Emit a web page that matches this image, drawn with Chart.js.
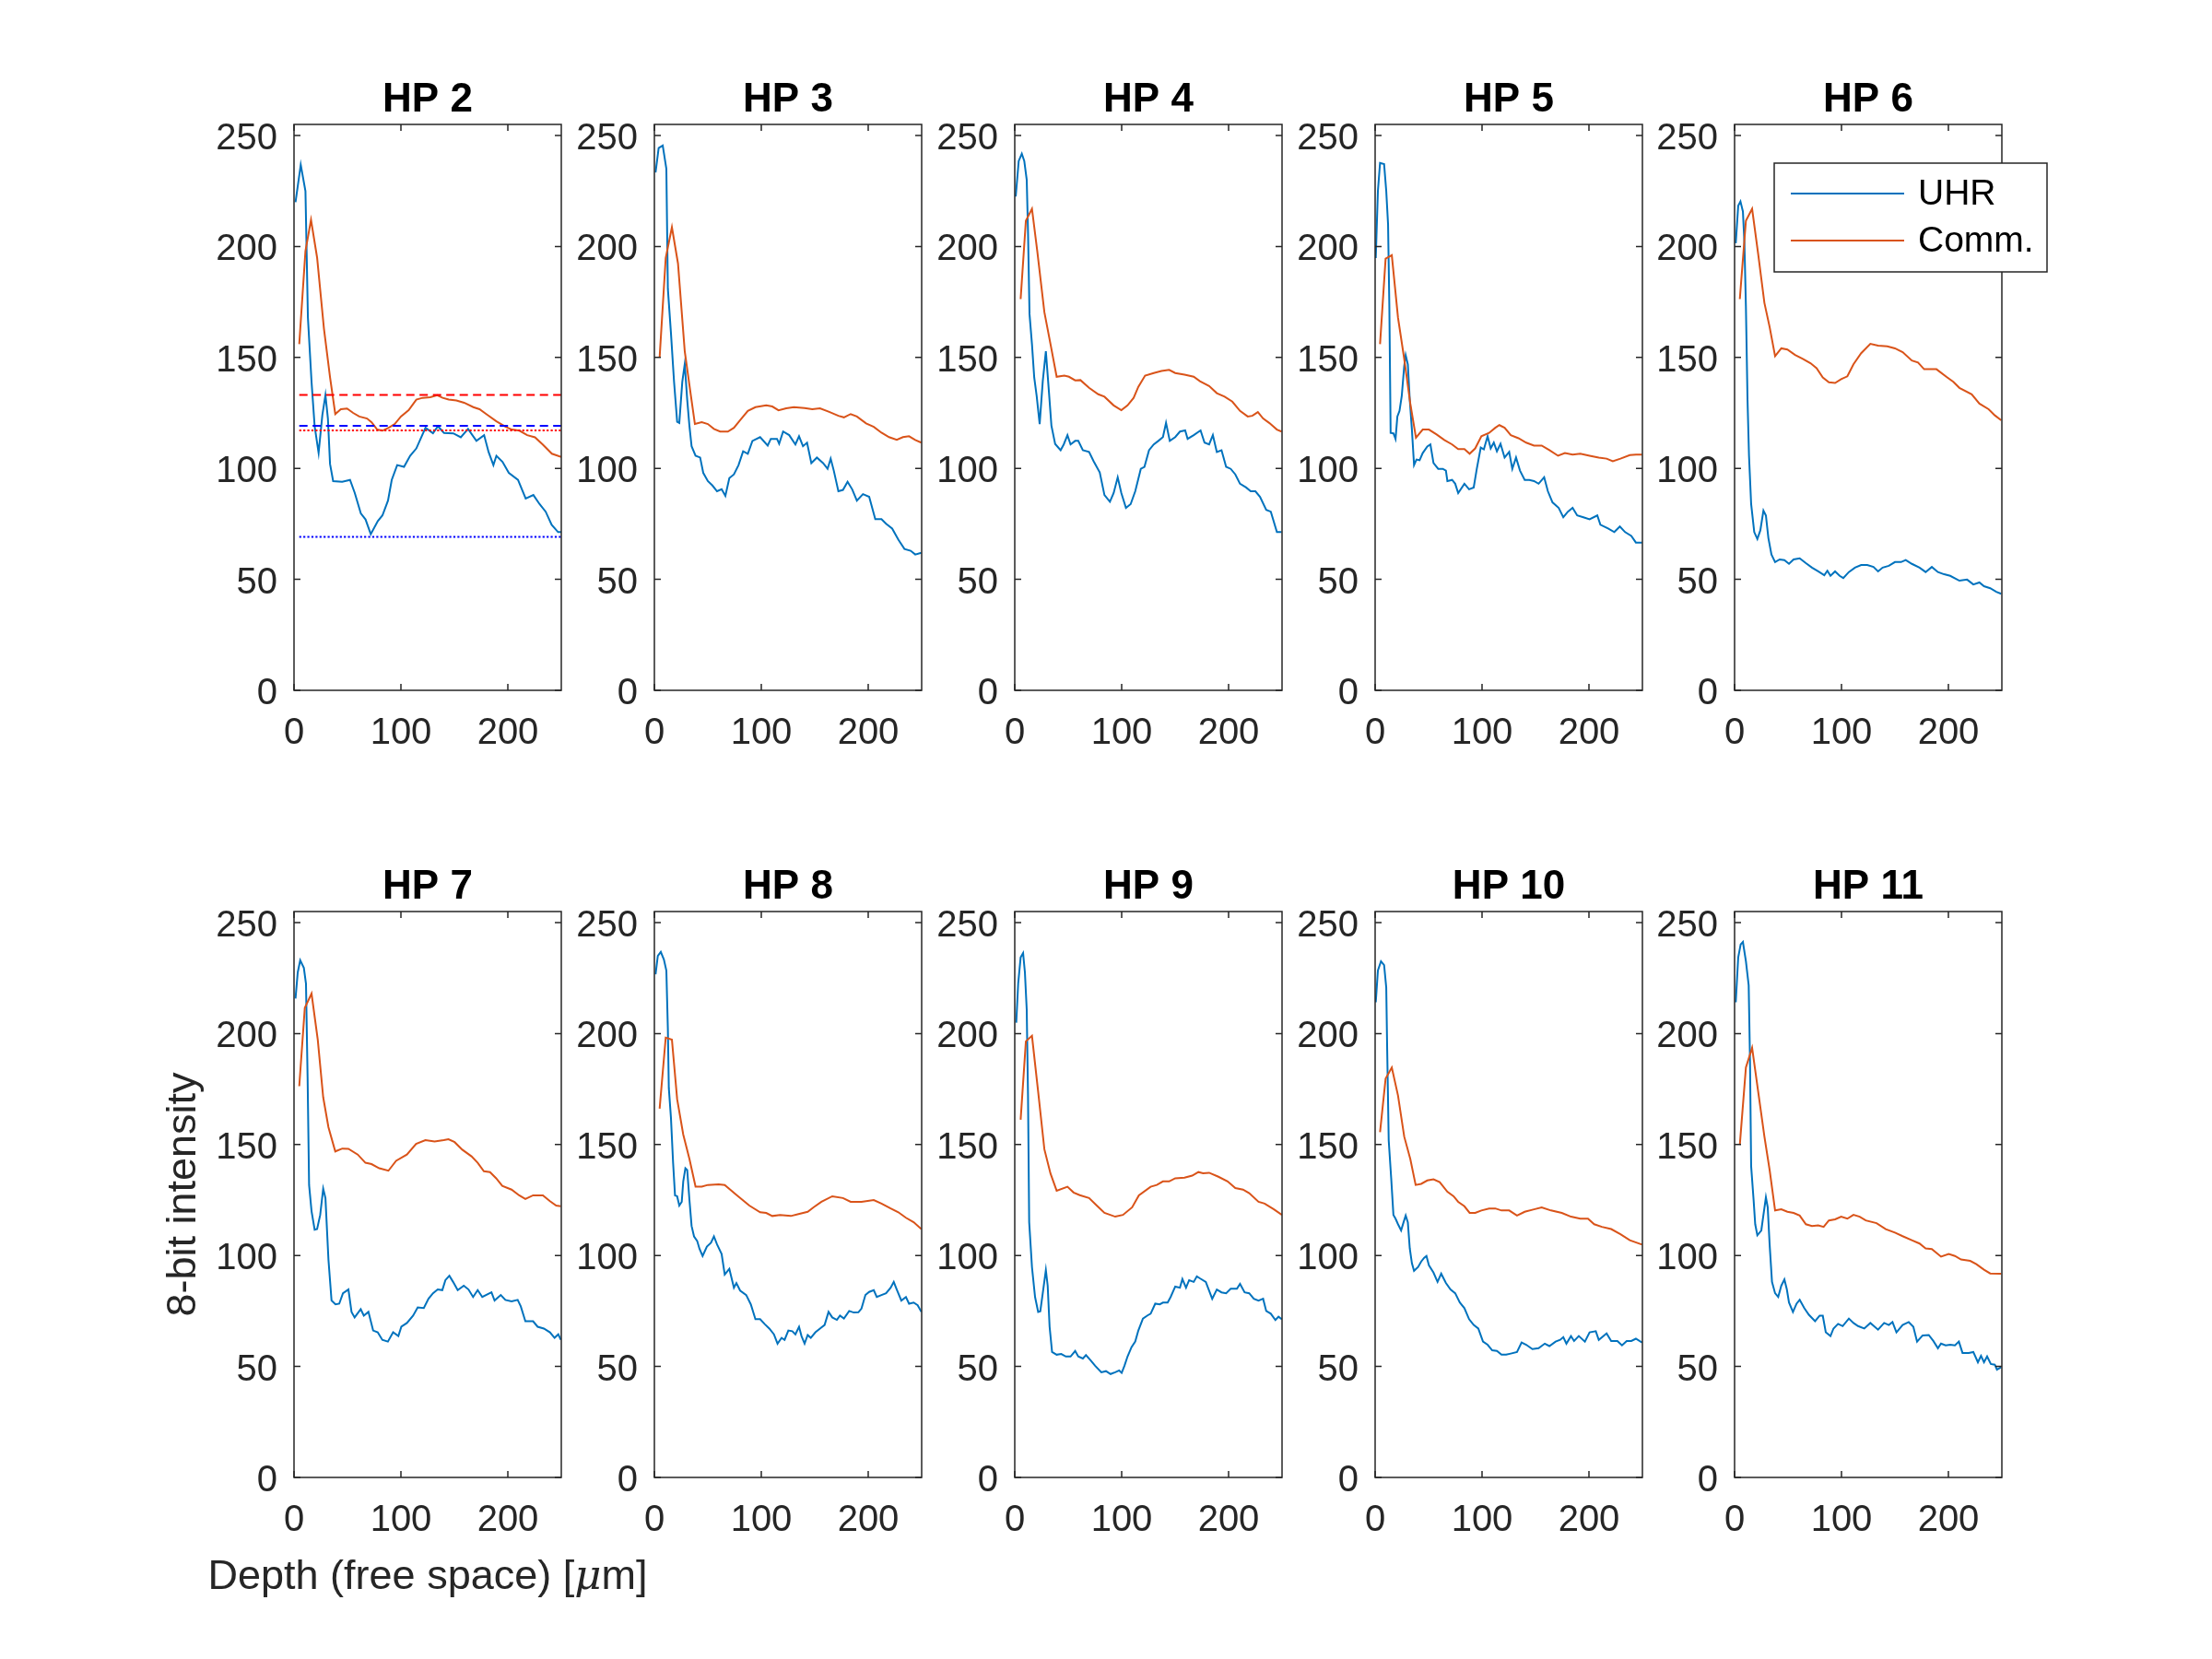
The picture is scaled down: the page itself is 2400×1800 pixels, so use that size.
<!DOCTYPE html>
<html>
<head>
<meta charset="utf-8">
<script src="https://cdn.jsdelivr.net/npm/chart.js@4.4.1/dist/chart.umd.min.js"></script>
<style>
  html, body { margin: 0; padding: 0; background: #fff; }
  #fig { position: relative; width: 2400px; height: 1800px; overflow: hidden; background: #fff; }
  #fig canvas { position: absolute; }
</style>
</head>
<body>
<div id="fig"></div>
<script>
// panel names, in subplot order
const panelNames = ['HP 2', 'HP 3', 'HP 4', 'HP 5', 'HP 6', 'HP 7', 'HP 8', 'HP 9', 'HP 10', 'HP 11'];
const xTicks = [0, 100, 200];
const yTicks = [0, 50, 100, 150, 200, 250];

// [depth, intensity]
const uhrHP2 = [[1.4,220],[6.3,236.8],[10.7,225],[13,168],[16.4,139],[19.3,119],[23,107],[26.5,124],[29.4,133],[31.7,122.5],[33.7,102],[36.6,94.3],[45,94],[52.4,94.8],[56.8,89],[62.5,79.7],[66.9,77],[71.8,70.4],[78.4,76.3],[82.7,78.8],[87.9,85.5],[91.4,94.8],[96.5,101.5],[102.9,100.7],[108.6,105.7],[114.4,109],[123,118.3],[130,115.8],[134.6,119],[140.3,116],[149,115.8],[156,114],[162.8,117.8],[170.6,112.4],[177.8,115],[182,107.4],[186.5,101.5],[189.3,105.7],[195,103],[200.9,98],[209.5,94.8],[216.7,86.4],[223.9,88],[229.7,83.9],[235.4,80.5],[241,74.6],[247,71.3],[250,71.3]];
const commHP2 = [[4.9,156],[10.7,198],[15.9,212],[21.6,195],[28,163],[33.7,141],[38.6,124.5],[43.8,126.7],[49.6,127],[55.3,125],[61,123.4],[68.3,122.5],[72.6,120.8],[77.8,117.5],[82.7,117],[88.5,118.3],[94.2,120],[100,123.4],[107.2,126.2],[114.4,131],[120.2,131.8],[127.4,132.1],[134,133],[139,131.8],[144.7,131],[151.9,130.6],[159.1,129.6],[167.7,127.6],[173.5,126.7],[180.7,124.2],[189.3,121.2],[198,118.7],[203.7,117.5],[210.9,117],[218.1,115],[225.4,114],[232.6,110.8],[241.2,106.6],[250,105.2]];

const uhrHP3 = [[1.1,233.4],[4,244.4],[7.8,245.5],[11.2,235],[12.6,181],[15.5,161],[18.4,139],[21.3,121],[23.3,120.5],[26.1,139],[28.4,147],[30.7,131],[32.8,119],[34.8,110],[38.5,105.7],[42.8,104.9],[45.7,98],[50,94.3],[54.3,92.3],[58.6,89.7],[62.9,90.6],[66.4,87.6],[70.1,95.6],[74.4,97.3],[78.7,101.5],[83,107.7],[87.4,106.6],[91.7,112.4],[98.9,114.1],[106,110.3],[108.9,113.3],[114.7,113.3],[116.7,111.1],[120.4,116.6],[126.1,115],[131.9,110.8],[135.3,114.5],[139,110],[142.8,111.6],[146.8,102.4],[152,104.9],[157.8,102.4],[162,99.8],[164.9,104.4],[167.8,99],[172.1,89.7],[176.4,90.3],[180.7,94],[185,90.6],[189.4,85.5],[195.1,88.4],[200.9,87.2],[206.6,77.1],[212.4,77.1],[216.7,75.1],[222.4,72.9],[228.2,67.9],[233.9,63.7],[239.7,62.9],[244,61.2],[249.7,62]];
const commHP3 = [[4.9,150],[10.6,194.8],[16.4,208.7],[22.1,192.3],[28.4,152.8],[34.2,132.6],[37.9,120],[44.3,120.8],[50,120],[55.7,117.8],[61.5,116.6],[68.7,116.6],[74.4,118.3],[80.2,121.7],[87.4,125.9],[94.5,127.6],[104.6,128.4],[110.3,127.9],[116.1,126.2],[123.3,127.1],[130.5,127.6],[140.5,127.2],[147.7,126.7],[154.9,127.1],[163.5,125.5],[172.1,123.7],[177.3,123],[183.6,124.5],[189.4,123.4],[198,120.3],[205.2,118.7],[212.4,116.1],[219.5,114.1],[226.7,112.9],[232.5,114.1],[238.2,114.5],[244,112.8],[249.7,111.6]];

const uhrHP4 = [[0.9,222.5],[3.7,238.5],[6.6,241.8],[8.9,238.5],[11.2,230],[12.4,206.6],[13.8,169.6],[16.1,156],[18.2,141],[20.5,132.6],[23.3,120],[26.2,139.3],[29.1,152.8],[32,134.3],[34.3,119.2],[37.8,111],[42.9,108.2],[45.8,110.8],[49.3,115],[52.2,110.8],[56.5,112.4],[59.4,112.4],[63.7,108.2],[69.5,107.4],[73.8,103.2],[79.5,98.2],[83.9,88],[89,85],[92.5,88.9],[96.3,96],[99.7,88.9],[104,82.2],[108.4,83.9],[112.7,89.7],[117.9,99.8],[121.3,100.7],[125.6,108.2],[130,110.8],[134.3,112.4],[138.6,114.1],[141.5,120.5],[145,112.4],[150.1,114.1],[154.5,116.6],[159.4,117.1],[161.7,113.3],[167.4,115],[173.8,117.1],[177.5,111.6],[181.8,110.8],[185.3,115],[189,107.4],[193.4,108.2],[197.7,100.7],[202,99.8],[206.3,97.3],[210.7,93.1],[216.4,91.4],[220.7,89.7],[225.1,89.7],[229.4,87.2],[235.2,81.3],[239.5,80.5],[245.2,71.3],[249.6,71.3]];
const commHP4 = [[5.5,176.3],[10.4,211.6],[16.1,217],[21,198.2],[27.7,170.4],[33.4,156.1],[39.2,141.3],[46.4,141.8],[50.7,141.3],[56.5,139.7],[61.4,139.8],[69.5,136.3],[78.1,133.4],[83.9,132.3],[92.5,128.4],[99.7,126.2],[105.5,128.4],[111.2,131.8],[115.6,136.8],[121.9,141.8],[130,143],[137.2,143.9],[144.4,144.4],[150.1,143],[158.8,142.2],[167.4,141.3],[173.2,139.3],[181.8,137.1],[189,133.9],[196.3,132.3],[203.5,130.1],[210.7,125.9],[217.9,123.4],[222.2,123.7],[227.4,125.4],[232.3,122.5],[238,120.5],[245.2,117.5],[249.6,116.6]];

const uhrHP5 = [[0.6,194.8],[2.6,225],[4.6,237.6],[8.4,237.1],[10.4,225],[12.1,210],[13.3,173],[14.5,116],[17.1,115.8],[19.1,113.3],[20.8,123.4],[22.8,125.9],[24.9,132.6],[27.2,146],[28.6,151],[30.6,146.9],[32.4,131],[34.4,117.5],[36.4,101.5],[38.7,104],[41.6,103.7],[44.5,106.9],[48.8,109.9],[51.7,110.8],[54.6,102.4],[59,99.8],[63.3,99.8],[66.2,99],[67.6,94.3],[72,94.8],[74.9,93.1],[77.7,88.9],[83.5,93.1],[87.9,90.6],[92.2,91.4],[95.1,99.8],[98.8,109.4],[101.7,108.6],[105.2,114.5],[108.1,109],[111,111.6],[113.9,107.7],[117.3,111.1],[121.1,104.9],[125.4,107.4],[128.3,99.8],[131.8,104.9],[135.5,99],[139.9,94.8],[144.2,94.8],[148.6,94.3],[152.9,93.1],[158.1,96],[161.6,89.7],[165.9,84.7],[171.7,82.2],[176,78],[180.3,80.5],[184.7,82.2],[189,78.8],[194.8,78],[200.6,77.1],[207.8,78.8],[210.7,74.6],[217.9,72.9],[223.7,71.3],[228.9,73.8],[233.8,71.3],[239.6,69.6],[243.9,66.6],[249.7,66.6]];
const commHP5 = [[4.6,156],[9.8,194.5],[15.6,196.1],[21.4,167.9],[27.2,149.4],[32.9,129.2],[38.2,113.8],[44.5,117.5],[50.3,117.5],[57.5,115.3],[64.7,112.8],[72,110.8],[77.7,108.7],[83.5,108.7],[88.4,106.6],[93.6,109],[99.4,114.5],[106.6,116],[112.4,118.3],[116.2,119.5],[121.1,118.3],[126.9,115],[134.1,113.6],[141.3,111.6],[148.6,110.3],[155.8,110.3],[163,108.2],[171.1,105.7],[177.5,106.9],[184.7,106.2],[191.9,106.6],[200.6,105.7],[209.2,104.9],[216.5,104.4],[222.3,103.2],[229.5,104.4],[238.2,106],[244,106.2],[249.7,106.2]];

const uhrHP6 = [[1.1,201.5],[3.4,218.3],[5.5,220.3],[7.8,215.8],[9.2,201.5],[10.6,173],[12.1,131],[13.5,105.7],[15.5,83.9],[18.4,71.3],[21.3,68.2],[24.1,72.1],[27,81],[29.3,78.8],[31.6,68.7],[34.5,61.2],[37.9,57.8],[42.2,59],[46.6,58.7],[50.9,57],[55.2,59],[60.9,59.5],[66.7,57.3],[72.4,55.3],[78.2,53.6],[83.9,51.9],[86.8,53.9],[89.7,51.6],[94,53.6],[98.3,51.6],[101.7,50.6],[106.9,53.3],[112.6,55.3],[118.4,56.5],[124.1,56.5],[129.9,55.6],[134.2,53.6],[138.5,55.3],[144.3,56.1],[150,57.8],[155.7,57.8],[160.1,58.7],[165.8,57],[173,55.3],[178.7,53.3],[184.5,55.6],[190.2,53.3],[196,52.3],[201.7,51.6],[210.3,49.4],[217.5,49.9],[223.3,47.7],[229,48.6],[233.3,46.9],[239.1,46],[244.8,44.4],[249.4,43.5]];
const commHP6 = [[4.9,176.3],[10.6,211.6],[16.4,217],[22.1,196.5],[27.9,174.6],[32.8,163.7],[37.9,150.6],[43.7,154.1],[49.4,153.6],[56.6,151.1],[63.8,149.4],[71,147.4],[76.7,145.2],[82.5,141],[88.2,138.8],[94,138.5],[99.7,140.2],[105.5,141.5],[111.2,146.9],[118.4,151.9],[127,156.1],[134.2,155.3],[142.8,155],[150,154.1],[157.2,152.4],[165.8,148.6],[171.6,147.7],[177.3,144.7],[188.8,144.7],[198.9,141],[204.6,139],[210.3,136.3],[221.8,133.4],[229,129.2],[237.6,126.7],[243.4,123.9],[249.4,121.7]];

const uhrHP7 = [[1.4,215.8],[3.5,227.6],[5.8,233],[9.2,229.6],[11.2,222.5],[12.7,180.5],[14.1,131.8],[16.4,120],[19.3,111.6],[21.6,111.9],[24.5,118.3],[27.3,130.1],[29.4,125.9],[32.2,98.2],[35.1,79.7],[38.8,78],[42.3,78.3],[45.8,83],[50.9,84.7],[53.8,74.6],[56.7,72.1],[62.4,75.8],[65.3,72.9],[69.6,74.6],[74,66.2],[78.3,65.4],[82.6,62],[87.8,61.2],[92.7,65.4],[97.6,63.7],[100.4,67.9],[105.6,69.6],[111.4,72.9],[115.7,76.6],[121.4,76.3],[125.8,80.5],[130,83],[134.4,84.7],[138.7,84.4],[141.6,88.9],[145.3,90.9],[148.8,88.1],[153.1,84.4],[158.8,86.4],[163.2,84.7],[167.5,81.3],[171.8,84.4],[176.1,81.3],[184.7,83.4],[187.6,79.7],[193.4,82.2],[197.7,80],[203.5,79.3],[209.2,80],[212.1,77.1],[216.4,70.4],[223.6,70.4],[227.9,67.9],[233.7,67.1],[239.4,65.4],[243.7,62.9],[247.2,64.5],[249.5,62]];
const commHP7 = [[4.9,176.3],[10.1,211.6],[16.4,218],[22.2,197.3],[27.3,171.3],[32.2,157.8],[38.6,146.9],[45.2,148.2],[50.9,148.1],[59.6,145.5],[66.8,141.8],[72.5,141.2],[79.7,139.3],[88.3,138.2],[95.5,142.7],[105.6,145.5],[114.2,150.3],[122.9,152],[131.5,151.4],[140.1,152],[144.5,152.4],[150.2,151.1],[157.4,147.7],[166,144.7],[171.8,141.8],[177.6,138],[183.3,137.6],[189.1,134.8],[194.8,131.4],[203.5,129.7],[210.6,127.1],[216.4,125.5],[223.6,127.1],[232.8,127.1],[239.4,124.5],[245.2,122.5],[249.5,122.2]];

const uhrHP8 = [[1.1,226.7],[3.2,235],[6,236.8],[8.9,233.4],[11.2,228.4],[12.6,202.4],[13.5,175.5],[15.5,162],[17.5,141.8],[19.3,127.1],[21.3,126.7],[23.3,122.5],[25.6,124.2],[27,133.4],[29,139.3],[30.7,138.5],[32.8,125],[34.8,113.3],[37.1,108.6],[40,106.6],[42.2,103],[45.1,99.8],[49.1,104],[52.9,105.7],[55.7,108.6],[58.6,105],[62.9,100.7],[65.8,91.4],[70.1,94],[74.4,85.5],[76.7,87.6],[80.2,84.2],[85.9,82.2],[90.2,78],[94.5,71.3],[98.9,71.3],[103.2,69.1],[107.5,67.1],[111.8,64.5],[115.2,60.3],[119,62.9],[121.8,62],[125.3,66.2],[129,65.9],[131.9,64.5],[135.3,67.9],[137.6,63.7],[140.5,60.3],[143.4,64.2],[146.3,62.9],[150.6,65.4],[154.9,67.1],[159.2,68.7],[162.9,74.6],[166.4,72.1],[170.7,71],[173.6,72.9],[177.3,71.6],[182.2,75],[186.5,74.3],[190.8,74.4],[193.7,76.1],[197.4,82.2],[200.9,83.6],[205.2,84.4],[208,81.3],[212.4,82.2],[216.7,83],[221,85.5],[223.9,88.1],[226.7,84.7],[231,79.7],[235.3,81.3],[238.2,78.3],[242.5,78.8],[246.3,77.6],[249.7,74.6]];
const commHP8 = [[4.9,166.2],[10.6,198.2],[16.4,197.3],[21.3,170.4],[27,154.5],[32.8,143.5],[38.5,131],[44.3,131],[50,131.8],[60.1,132.1],[65.8,131.8],[77.3,127.1],[88.8,122.5],[98.9,119.5],[104.6,119.2],[110.3,117.8],[117.5,118.3],[127.6,117.8],[134.8,118.7],[143.4,119.7],[149.1,121.8],[156.3,124.2],[166.4,126.7],[176.4,125.9],[183.6,124.2],[193.7,124.2],[205.2,125],[212.4,123.4],[221,121.2],[228.2,119.5],[235.3,117],[242.5,115],[249.7,111.9]];

const uhrHP9 = [[1.4,204.9],[3.2,222.5],[5.5,234.3],[7.8,236.3],[9.5,227.6],[11.2,210.8],[12.4,172.1],[13.5,115],[16.1,94.8],[19,81.3],[21.9,74.6],[23.9,74.9],[26.2,83],[29.1,93.4],[30.8,86.4],[32.6,67.9],[34.9,56.5],[39.2,55.3],[43.5,55.6],[47.8,54.5],[52.2,54.5],[56.5,57],[59.4,54.5],[63.7,53.6],[66.6,55.1],[70.9,52.8],[75.2,50.3],[81,47.4],[85.3,47.9],[89.6,46.6],[94,47.4],[97.7,48.2],[100,47.1],[102.6,50.3],[105.5,54.5],[109.2,58.7],[112.7,61.2],[115.6,66.2],[119.9,71.6],[124.2,73],[127.1,73.8],[131.4,78.3],[135.7,78],[138.6,78.8],[143,78.8],[145.8,81.3],[150.1,86],[154.5,85.5],[156.8,89.4],[160.2,85.5],[163.1,88.9],[167.4,88.1],[170.3,90.6],[173.2,89.7],[178.7,88.1],[184.7,80.5],[189,84.7],[193.4,83.4],[197.7,83],[202,85],[207.8,85],[210.7,87.2],[215,83.4],[219.3,83],[223.6,80.5],[228,79.7],[232.3,80.5],[235.2,75],[239.5,73.8],[243.8,70.9],[246.7,72.4],[249.9,71.3]];
const commHP9 = [[5.5,161.2],[10.4,196.5],[16.1,199],[21.9,173.8],[27.7,147.9],[33.4,137],[39.2,129.2],[49.3,131],[55,128.4],[60.8,127.2],[69.5,125.9],[76.7,122.5],[83.9,119.2],[94,117.5],[101.2,118.3],[109.8,121.7],[116.1,127.1],[127.1,131],[132.9,131.8],[138.6,133.4],[144.4,133.4],[150.1,134.8],[158.8,135.1],[166,136],[171.8,137.6],[176.1,137.1],[181.8,137.3],[190.5,135.5],[199.1,133.4],[206.3,130.4],[213.5,129.7],[219.3,128.1],[228,124.2],[233.7,123.4],[242.4,120.8],[249.9,118.3]];

const uhrHP10 = [[0.6,214.1],[2.6,228.4],[5.5,232.6],[8.4,230.9],[10.4,220.8],[11.3,192.3],[12.7,151.9],[15,135.1],[17.1,118.3],[19.1,116.6],[21.4,114.1],[24.3,111.3],[26.6,115],[28.6,118],[30.6,115],[32.4,103.2],[34.4,96.5],[36.4,93.1],[40.2,94.8],[43.1,97.3],[45.9,99],[48,99.8],[50.3,95.6],[54.6,92.3],[58.4,88.1],[61.8,91.8],[66.2,87.6],[70.5,84.7],[74.9,83],[79.2,78.8],[83.5,76.3],[87.9,71.3],[92.2,68.7],[96.5,67.1],[100.9,61.2],[105.2,59.8],[109.5,57.3],[113.9,57],[118.2,55.3],[122.5,55.3],[126.9,55.8],[132.7,56.5],[137,60.8],[141.3,59.8],[147.1,57.8],[152.9,58.2],[158.7,60.3],[163,59.2],[168.8,61.2],[173.1,62],[176,63.2],[178.9,60.3],[183.2,63.7],[186.1,61.5],[190.5,63.7],[196.2,61.2],[200.6,65.4],[206.4,65.9],[209.2,62],[216.5,64.9],[220.8,61.5],[226.6,61.5],[230.9,59.5],[235.3,61.5],[239.6,61.5],[243.9,62.5],[249.7,60.8]];
const commHP10 = [[4.6,155.6],[9.8,179.7],[15.6,184.7],[21.4,172.1],[27.2,153.6],[32.9,143.5],[37.9,131.8],[43.1,132.3],[48.8,133.8],[54.6,134.3],[60.4,133.1],[67.6,128.7],[73.4,126.7],[77.7,124.2],[83.5,122.2],[88.4,119.2],[93.6,119.2],[99.4,120.3],[106.6,121.2],[112.4,121.2],[118.2,120.3],[125.4,120.3],[132.7,118],[139.9,119.7],[148.6,120.8],[155.8,121.7],[164.5,120.3],[174.6,119.2],[183.2,117.5],[191.9,116.6],[199.1,116.6],[204.9,114.1],[212.1,112.9],[220.8,111.9],[229.5,109.6],[238.2,106.9],[249.7,104.9]];

const uhrHP11 = [[1.1,214.1],[3.4,234.3],[5.7,240.2],[7.8,241.3],[10.6,232.6],[13.2,221.7],[14.4,188.9],[15.5,140.2],[17.8,125],[19.3,114.1],[21.3,109.1],[25,111.3],[27,118.3],[29.3,126.2],[31,121.7],[32.8,104.9],[35,88.1],[37.9,83],[40.8,81.3],[43.7,86.4],[46.6,89.2],[48.9,84.7],[50.9,78.8],[54.6,74.6],[58,78.3],[60.9,80],[65.2,76.3],[69.5,73.3],[75.3,70.4],[79.6,72.9],[82.5,72.9],[85.3,65.4],[89.7,63.7],[92.5,67.1],[96.8,69.2],[101.1,68.2],[106.9,71.6],[111.2,69.6],[115.5,68.2],[121.3,67.1],[127,69.6],[134.2,66.6],[139.9,69.6],[144.3,68.7],[147.7,70],[151.4,65.4],[157.2,68.7],[162.9,70],[167.2,67.9],[170.7,61.2],[175.9,64],[181.6,64.2],[185.9,61.5],[190.2,58.2],[193.1,60.3],[197.4,59.5],[201.7,59.8],[206.1,59.5],[209.8,61.2],[213.2,56.1],[219,56.1],[223.3,56.5],[227.6,51.9],[230.5,54.8],[233.3,51.9],[236.2,54.5],[239.7,51.1],[243.4,50.8],[245.4,48.6],[249.4,49.7]];
const commHP11 = [[4.9,149.9],[10.6,184.7],[16.4,193.6],[22.1,173.8],[27.9,153.6],[32.8,138.5],[37.9,120.3],[43.7,120.8],[49.4,119.7],[55.2,119.2],[60.9,118],[66.7,114.1],[72.4,113.3],[78.2,113.6],[83.3,112.9],[88.2,115.8],[94,116.3],[99.7,117.5],[105.5,116.6],[111.2,118.3],[117,117.5],[122.7,115.8],[132.8,114.6],[141.4,111.9],[150,110.3],[157.2,108.7],[165.8,106.9],[173,105.4],[178.7,103.2],[184.5,102.9],[193.1,99.5],[200.3,100.7],[206.1,99.8],[211.8,98.2],[220.4,97.6],[226.2,96.1],[233.3,93.6],[239.1,91.9],[249.4,91.8]];

// horizontal reference levels drawn in HP 2 (from x = 4.9 to 250)
const refStartX = 4.9;
const refRedDashed = 133.1;
const refBlueDashed = 119.2;
const refRedDotted = 117.1;
const refBlueDotted = 69.2;

const uhrSeries = [uhrHP2, uhrHP3, uhrHP4, uhrHP5, uhrHP6, uhrHP7, uhrHP8, uhrHP9, uhrHP10, uhrHP11];
const commSeries = [commHP2, commHP3, commHP4, commHP5, commHP6, commHP7, commHP8, commHP9, commHP10, commHP11];

// layout (pixels)
const AX_LEFT = [319, 710, 1101, 1492, 1882];
const AX_TOP = [135, 989];
const AX_W = 290, AX_H = 614;
const M_LEFT = 170, M_TOP = 80, M_RIGHT = 110, M_BOTTOM = 150;

const UHR_COLOR = '#0072BD';
const COMM_COLOR = '#D95319';
const AXIS_COLOR = '#262626';
const FONT = '"Liberation Sans", Arial, Helvetica, sans-serif';

const toPoints = arr => arr.map(p => ({ x: p[0], y: p[1] }));
const hLine = (y, color, dash) => ({
    data: [{ x: refStartX, y: y }, { x: 250, y: y }],
    borderColor: color, borderWidth: 2, borderDash: dash, pointRadius: 0
});

// frame, inner ticks, title, labels and legend, MATLAB style
const panelDecor = {
    id: 'panelDecor',
    afterDatasetsDraw(chart, args, opts) {
        const ctx = chart.ctx;
        const a = chart.chartArea;
        const sx = chart.scales.x, sy = chart.scales.y;
        const tl = 7;
        ctx.save();
        ctx.strokeStyle = AXIS_COLOR;
        ctx.lineWidth = 1.5;
        ctx.strokeRect(a.left, a.top, a.right - a.left, a.bottom - a.top);
        ctx.beginPath();
        xTicks.forEach(v => {
            const px = sx.getPixelForValue(v);
            ctx.moveTo(px, a.bottom); ctx.lineTo(px, a.bottom - tl);
            ctx.moveTo(px, a.top); ctx.lineTo(px, a.top + tl);
        });
        yTicks.forEach(v => {
            const py = sy.getPixelForValue(v);
            ctx.moveTo(a.left, py); ctx.lineTo(a.left + tl, py);
            ctx.moveTo(a.right, py); ctx.lineTo(a.right - tl, py);
        });
        ctx.stroke();

        // title
        ctx.fillStyle = '#000';
        ctx.font = 'bold 44px ' + FONT;
        ctx.textAlign = 'center';
        ctx.textBaseline = 'alphabetic';
        ctx.fillText(opts.title, (a.left + a.right) / 2, a.top - 14);

        if (opts.labels) {
            ctx.fillStyle = AXIS_COLOR;
            const parts = ['Depth (free space) [', '\u03bc', 'm]'];
            const fonts = ['45px ' + FONT, 'italic 45px "DejaVu Serif", serif', '45px ' + FONT];
            const widths = parts.map((t, i) => { ctx.font = fonts[i]; return ctx.measureText(t).width; });
            let x = (a.left + a.right) / 2 - widths.reduce((s, w) => s + w, 0) / 2;
            ctx.textAlign = 'left';
            parts.forEach((t, i) => {
                ctx.font = fonts[i];
                ctx.fillText(t, x, a.bottom + 121);
                x += widths[i];
            });
            ctx.save();
            ctx.translate(a.left - 123, (a.top + a.bottom) / 2);
            ctx.rotate(-Math.PI / 2);
            ctx.font = '45px ' + FONT;
            ctx.textAlign = 'center';
            ctx.textBaseline = 'alphabetic';
            ctx.fillText('8-bit intensity', 0, 16);
            ctx.restore();
        }

        if (opts.legend) {
            const lx = a.left + 43, ly = a.top + 42, lw = 296, lh = 118;
            ctx.fillStyle = '#fff';
            ctx.fillRect(lx, ly, lw, lh);
            ctx.strokeStyle = AXIS_COLOR;
            ctx.lineWidth = 1.5;
            ctx.strokeRect(lx, ly, lw, lh);
            const rows = [['UHR', UHR_COLOR, ly + 33], ['Comm.', COMM_COLOR, ly + 84]];
            ctx.font = '39px ' + FONT;
            ctx.textAlign = 'left';
            ctx.textBaseline = 'middle';
            rows.forEach(r => {
                ctx.strokeStyle = r[1];
                ctx.lineWidth = 2;
                ctx.beginPath();
                ctx.moveTo(lx + 18, r[2]); ctx.lineTo(lx + 141, r[2]);
                ctx.stroke();
                ctx.fillStyle = '#000';
                ctx.fillText(r[0], lx + 156, r[2] + 1);
            });
        }
        ctx.restore();
    }
};

const fig = document.getElementById('fig');

panelNames.forEach((name, i) => {
    const row = Math.floor(i / 5), col = i % 5;
    const canvas = document.createElement('canvas');
    const w = M_LEFT + AX_W + M_RIGHT, h = M_TOP + AX_H + M_BOTTOM;
    canvas.width = w; canvas.height = h;
    canvas.style.width = w + 'px'; canvas.style.height = h + 'px';
    canvas.style.left = (AX_LEFT[col] - M_LEFT) + 'px';
    canvas.style.top = (AX_TOP[row] - M_TOP) + 'px';
    fig.appendChild(canvas);

    const datasets = [];
    if (i === 0) {
        datasets.push(hLine(refRedDashed, '#FF0000', [9, 5.5]));
        datasets.push(hLine(refBlueDashed, '#0000FF', [9, 5.5]));
        datasets.push(hLine(refRedDotted, '#FF0000', [2.2, 2.2]));
        datasets.push(hLine(refBlueDotted, '#0000FF', [2.2, 2.2]));
    }
    datasets.push({ label: 'Comm.', data: toPoints(commSeries[i]), borderColor: COMM_COLOR, borderWidth: 2, pointRadius: 0 });
    datasets.push({ label: 'UHR', data: toPoints(uhrSeries[i]), borderColor: UHR_COLOR, borderWidth: 2, pointRadius: 0 });

    new Chart(canvas, {
        type: 'line',
        data: { datasets: datasets },
        options: {
            responsive: false,
            devicePixelRatio: 1,
            animation: false,
            layout: { padding: { left: 0, top: M_TOP, right: M_RIGHT, bottom: 0 } },
            scales: {
                x: {
                    type: 'linear', min: 0, max: 250,
                    grid: { display: false, drawTicks: false },
                    border: { display: false },
                    ticks: { stepSize: 100, includeBounds: false, padding: 23, color: AXIS_COLOR,
                             font: { family: FONT, size: 40 }, maxRotation: 0 },
                    afterFit: s => { s.height = M_BOTTOM; }
                },
                y: {
                    type: 'linear', min: 0, max: 255,
                    grid: { display: false, drawTicks: false },
                    border: { display: false },
                    ticks: { stepSize: 50, includeBounds: false, padding: 18, labelOffset: 4, color: AXIS_COLOR,
                             font: { family: FONT, size: 40 } },
                    afterFit: s => { s.width = M_LEFT; }
                }
            },
            plugins: {
                legend: { display: false },
                tooltip: { enabled: false },
                panelDecor: { title: name, labels: i === 5, legend: i === 4 }
            }
        },
        plugins: [panelDecor]
    });
});
</script>
</body>
</html>
